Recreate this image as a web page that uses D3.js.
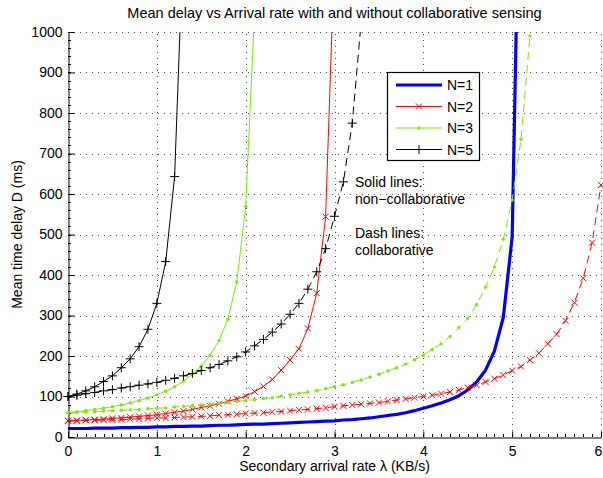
<!DOCTYPE html>
<html>
<head>
<meta charset="utf-8">
<script src="https://cdn.jsdelivr.net/npm/d3@7/dist/d3.min.js"></script>
<style>
  html, body { margin: 0; padding: 0; background: #fff; }
  svg { display: block; font-family: "Liberation Sans", Arial, Helvetica, sans-serif; }
</style>
</head>
<body>
<svg id="chart" width="603" height="478"></svg>
<script>
// ---- data ----
const lambdaStep = 0.1; // sampling step of every series (KB/s)
const xTicks = [0, 1, 2, 3, 4, 5, 6];
const yTicks = [0, 100, 200, 300, 400, 500, 600, 700, 800, 900, 1000];
const seriesNames = ["N=1", "N=2", "N=3", "N=5"];

// N=1, non-collaborative (solid only)
const n1Solid = [21,21,21,22,22,22,23,23,24,24, 25,25,26,26,27,27,28,29,29,30,
                 31,32,32,33,34,35,36,37,38,39, 40,42,43,45,47,50,53,56,60,65,
                 71,77,84,92,102,116,136,165,212,295, 494,1618];
// N=2
const n2Solid = [40,41,42,43,44,46,47,49,51,53, 55,58,61,64,68,73,77,82,88,94,
                 101,112,125,142,165,190,218,268,355,544, 1195];
const n2Dash  = [40,40,41,41,42,42,43,44,45,46, 47,47,48,49,50,51,52,54,55,56,
                 58,59,60,62,63,65,67,68,70,72, 75,77,79,81,83,85,88,91,94,97,
                 100,103,107,111,116,122,128,136,144,153, 164,174,190,207,230,254,287,332,392,480,
                 622];
// N=3
const n3Solid = [60,62,65,68,71,75,79,84,90,96, 104,113,124,138,155,175,202,238,291,383,
                 569,1048];
const n3Dash  = [60,61,62,62,64,65,66,67,68,70, 71,72,74,76,77,79,81,83,85,88,
                 90,92,95,97,101,104,108,111,115,119, 124,129,135,141,148,155,163,171,180,191,
                 202,216,230,248,270,293,327,370,420,488, 585,735,990];
// N=5
const n5Solid = [100,106,114,124,137,151,171,193,223,266, 330,433,643,1238];
const n5Dash  = [100,103,107,110,114,117,121,124,128,131, 135,140,145,151,157,164,171,179,188,198,
                 210,225,241,259,279,303,330,365,408,465, 545,630,775,1025];

// ---- layout ----
const svg = d3.select("#chart");
const L = 68, R = 601, T = 32, B = 437;
const x = d3.scaleLinear().domain([0, 6]).range([L, R]);
const y = d3.scaleLinear().domain([0, 1000]).range([B, T]);
const font = "14px";

const colors = { "N=1": "#0000ff", "N=2": "#ff0000", "N=3": "#77ee00", "N=5": "#000000" };

// clip
svg.append("defs").append("clipPath").attr("id", "clip")
  .append("rect").attr("x", 0).attr("y", T).attr("width", 603).attr("height", 478 - T);

// grid (dotted)
const grid = svg.append("g").attr("stroke", "#555").attr("stroke-width", 1)
  .attr("stroke-dasharray", "1,5").attr("fill", "none");
grid.selectAll("line.h").data(yTicks.filter(d => d > 0)).join("line")
  .attr("x1", L).attr("x2", R)
  .attr("y1", d => Math.round(y(d)) + 0.5).attr("y2", d => Math.round(y(d)) + 0.5);
grid.selectAll("line.v").data(xTicks.filter(d => d > 0)).join("line")
  .attr("y1", B).attr("y2", T)
  .attr("x1", d => Math.round(x(d)) + 0.5).attr("x2", d => Math.round(x(d)) + 0.5);

// minor ticks
const minorX = d3.range(0, 61).map(i => i / 10);
const minorY = d3.range(0, 51).map(i => i * 20);
const minor = svg.append("g").attr("stroke", "#000").attr("stroke-width", 1);
minor.selectAll("line.mx").data(minorX).join("line")
  .attr("x1", d => Math.round(x(d)) + 0.5).attr("x2", d => Math.round(x(d)) + 0.5)
  .attr("y1", B).attr("y2", B - 3);
minor.selectAll("line.my").data(minorY).join("line")
  .attr("y1", d => Math.round(y(d)) + 0.5).attr("y2", d => Math.round(y(d)) + 0.5)
  .attr("x1", L).attr("x2", L + 3);

// axes
const xAxis = svg.append("g").attr("transform", `translate(0,${B + 0.5})`)
  .call(d3.axisBottom(x).tickValues(xTicks).tickFormat(d3.format("d")).tickSize(-6).tickSizeOuter(0).tickPadding(9));
const yAxis = svg.append("g").attr("transform", `translate(${L + 0.5},0)`)
  .call(d3.axisLeft(y).tickValues(yTicks).tickFormat(d3.format("d")).tickSize(-6).tickSizeOuter(0).tickPadding(6));
[xAxis, yAxis].forEach(a => {
  a.select(".domain").attr("stroke", "#000");
  a.selectAll(".tick line").attr("stroke", "#000");
  a.selectAll(".tick text").attr("fill", "#000").style("font-size", font)
    .style("font-family", '"Liberation Sans", Arial, sans-serif');
});
// keep the last x label inside the window
xAxis.selectAll(".tick text").filter(d => d === 6).attr("dx", -3);

// series drawing
const plot = svg.append("g").attr("clip-path", "url(#clip)");
const lineGen = d3.line().x(d => x(d[0])).y(d => y(d[1]));
const toPts = arr => arr.map((v, i) => [+(i * lambdaStep).toFixed(2), v]);

function markerPath(name) {
  if (name === "N=2") return "M-3,-3L3,3M-3,3L3,-3";
  if (name === "N=5") return "M-4.5,0H4.5M0,-4.5V4.5";
  return null;
}

function drawSeries(arr, name, dashed, withMarkers) {
  const pts = toPts(arr);
  const c = colors[name];
  plot.append("path").datum(pts)
    .attr("d", lineGen).attr("fill", "none").attr("stroke", c)
    .attr("stroke-width", name === "N=1" ? 3.2 : 1)
    .attr("stroke-linejoin", "round")
    .attr("stroke-dasharray", dashed ? "8,5" : null);
  if (!withMarkers) return;
  const g = plot.append("g");
  if (name === "N=3") {
    g.selectAll("circle").data(pts).join("circle")
      .attr("cx", d => x(d[0])).attr("cy", d => y(d[1])).attr("r", 1.7).attr("fill", c);
  } else {
    g.selectAll("path").data(pts).join("path")
      .attr("transform", d => `translate(${x(d[0])},${y(d[1])})`)
      .attr("d", markerPath(name)).attr("stroke", c).attr("stroke-width", 1).attr("fill", "none");
  }
}

drawSeries(n1Solid, "N=1", false, false);
drawSeries(n2Solid, "N=2", false, true);
drawSeries(n3Solid, "N=3", false, true);
drawSeries(n5Solid, "N=5", false, true);
drawSeries(n2Dash, "N=2", true, true);
drawSeries(n3Dash, "N=3", true, true);
drawSeries(n5Dash, "N=5", true, true);

// legend
const lg = svg.append("g");
lg.append("rect").attr("x", 387.5).attr("y", 72.5).attr("width", 92).attr("height", 88)
  .attr("fill", "#fff").attr("stroke", "#000").attr("stroke-width", 1.2);
const rowY = [85, 106.5, 128, 149.5];
seriesNames.forEach((name, i) => {
  const c = colors[name];
  const yy = rowY[i];
  lg.append("line").attr("x1", 396).attr("x2", 442).attr("y1", yy).attr("y2", yy)
    .attr("stroke", c).attr("stroke-width", name === "N=1" ? 3.2 : 1);
  if (name === "N=3") {
    lg.append("circle").attr("cx", 419).attr("cy", yy).attr("r", 1.7).attr("fill", c);
  } else if (name !== "N=1") {
    lg.append("path").attr("transform", `translate(419,${yy})`).attr("d", markerPath(name))
      .attr("stroke", c).attr("fill", "none");
  }
  lg.append("text").attr("x", 447).attr("y", yy + 5).style("font-size", font).attr("fill", "#000").text(name);
});

// annotations
const notes = [["Solid lines:", 187], ["non\u2212collaborative", 204], ["Dash lines:", 238], ["collaborative", 255]];
svg.append("g").selectAll("text").data(notes).join("text")
  .attr("x", 355).attr("y", d => d[1]).style("font-size", font).attr("fill", "#000").text(d => d[0]);

// title and axis labels
svg.append("text").attr("x", (L + R) / 2).attr("y", 18).attr("text-anchor", "middle")
  .style("font-size", "14.5px").attr("fill", "#000")
  .text("Mean delay vs Arrival rate with and without collaborative sensing");
svg.append("text").attr("x", (L + R) / 2).attr("y", 471).attr("text-anchor", "middle")
  .style("font-size", font).attr("fill", "#000").text("Secondary arrival rate \u03bb (KB/s)");
svg.append("text").attr("transform", `translate(22,${(T + B) / 2}) rotate(-90)`).attr("text-anchor", "middle")
  .style("font-size", font).attr("fill", "#000").text("Mean time delay D (ms)");
</script>
</body>
</html>
